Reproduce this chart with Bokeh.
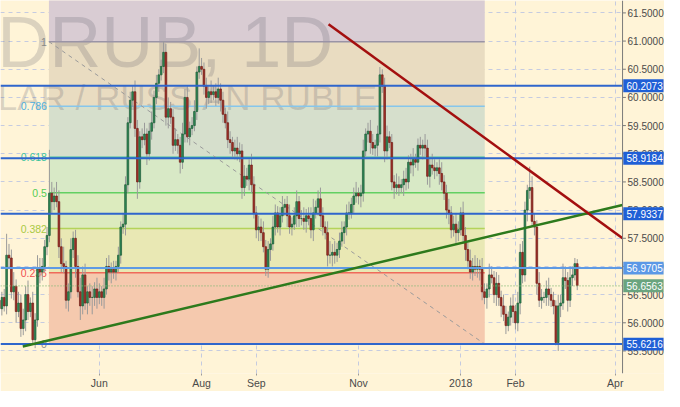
import pandas as pd
from bokeh.plotting import figure
from bokeh.models import Range1d, FixedTicker, Span, ColumnDataSource
from bokeh.core.properties import value
from bokeh.embed import file_html
from bokeh.resources import INLINE

# ---------------- data ----------------
# daily closes (bars 1..244, weekday index from 2017-04-03)
closes = [
    56.25, 56.45, 56.30, 57.20, 57.15, 56.55, 56.65, 56.20, 56.35, 55.90,
    56.05, 56.50, 56.20, 56.35, 55.70, 56.05, 56.95, 56.90, 57.00, 57.35,
    57.55, 58.30, 58.15, 58.25, 58.15, 57.35, 57.05, 57.00, 56.40, 56.55,
    57.30, 57.50, 57.00, 56.55, 56.30, 56.85, 56.35, 56.55, 56.45, 56.45,
    56.60, 56.45, 56.55, 56.45, 56.60, 57.00, 56.90, 56.95, 56.90, 57.00,
    57.20, 57.70, 57.75, 58.45, 59.55, 59.95, 60.10, 59.45, 58.50, 59.30,
    59.25, 59.35, 59.00, 59.40, 59.55, 60.00, 60.25, 60.40, 60.55, 60.80,
    59.65, 59.80, 59.65, 59.15, 59.25, 59.15, 58.85, 59.35, 60.00, 59.30,
    59.45, 59.50, 59.75, 60.45, 60.55, 60.50, 60.20, 60.00, 60.10, 60.05,
    60.10, 60.00, 60.15, 59.95, 59.70, 59.55, 59.25, 59.20, 59.05, 59.10,
    59.00, 59.05, 58.40, 58.60, 58.55, 58.80, 58.45, 57.95, 57.65, 57.70,
    57.60, 57.35, 56.95, 57.30, 57.40, 57.70, 57.95, 57.70, 57.90, 58.05,
    58.10, 57.90, 57.70, 57.75, 57.90, 58.15, 57.85, 57.85, 57.80, 57.90,
    57.85, 57.65, 57.95, 58.05, 58.20, 57.90, 57.70, 57.60, 57.20, 57.20,
    57.25, 57.20, 57.30, 57.45, 57.60, 57.70, 57.95, 57.95, 58.10, 58.25,
    58.30, 58.25, 58.30, 59.05, 59.35, 59.40, 59.20, 59.10, 59.15, 59.35,
    60.40, 60.20, 59.05, 59.30, 59.20, 58.50, 58.40, 58.45, 58.40, 58.45,
    58.55, 58.50, 58.85, 58.80, 58.90, 58.85, 59.15, 59.10, 59.15, 59.10,
    58.60, 58.80, 58.75, 58.70, 58.75, 58.65, 58.50, 58.30, 58.00, 57.95,
    57.65, 57.75, 57.60, 57.65, 57.95, 57.55, 57.30, 57.10, 56.90, 57.00,
    56.95, 57.00, 56.95, 56.55, 56.45, 56.60, 56.85, 56.80, 56.50, 56.70,
    56.45, 56.30, 56.15, 55.95, 56.10, 56.30, 56.20, 56.00, 56.35, 57.25,
    56.85, 58.00, 58.35, 58.40, 57.80, 57.70, 56.70, 56.40, 56.45, 56.45,
    56.60, 56.50, 56.40, 56.30, 55.65, 56.30, 56.35, 56.80, 56.75, 56.40,
    56.80, 56.85, 57.05, 56.66,
]
first_open = 56.40
# wick lengths above / below the body, in hundredths of a rouble
upper_wick = [
    12, 10, 15, 38, 20, 15, 25, 12, 20, 15,
    20, 15, 25, 10, 20, 12, 25, 20, 15, 12,
    15, 77, 20, 15, 25, 20, 15, 30, 10, 15,
    20, 12, 15, 20, 25, 15, 20, 10, 15, 20,
    12, 20, 15, 10, 20, 15, 20, 12, 15, 10,
    15, 10, 20, 15, 10, 15, 10, 20, 15, 10,
    15, 20, 10, 15, 20, 12, 15, 10, 12, 20,
    15, 20, 12, 15, 20, 10, 15, 20, 15, 20,
    12, 15, 20, 10, 32, 15, 12, 15, 10, 20,
    12, 15, 20, 10, 15, 12, 20, 15, 10, 15,
    20, 15, 12, 20, 15, 10, 20, 15, 12, 20,
    15, 20, 12, 15, 10, 20, 15, 12, 15, 20,
    10, 15, 20, 12, 15, 20, 10, 15, 20, 12,
    15, 20, 25, 12, 15, 20, 15, 10, 20, 25,
    15, 20, 12, 15, 20, 10, 15, 20, 12, 15,
    20, 10, 15, 20, 10, 15, 20, 15, 10, 15,
    14, 10, 15, 20, 10, 15, 12, 20, 15, 10,
    15, 20, 12, 15, 20, 10, 12, 15, 10, 20,
    15, 12, 20, 15, 10, 15, 20, 12, 15, 20,
    12, 15, 20, 15, 10, 20, 15, 12, 20, 15,
    20, 15, 12, 20, 15, 10, 20, 15, 12, 20,
    15, 12, 20, 15, 10, 15, 20, 12, 20, 15,
    20, 15, 10, 37, 20, 15, 12, 20, 15, 10,
    15, 20, 12, 15, 10, 20, 15, 25, 20, 15,
    20, 15, 10, 8,
]
lower_wick = [
    15, 12, 10, 15, 20, 12, 15, 20, 10, 15,
    12, 20, 15, 10, 8, 15, 12, 20, 15, 10,
    15, 12, 20, 15, 10, 20, 15, 12, 15, 20,
    12, 15, 20, 10, 25, 15, 12, 20, 15, 30,
    15, 20, 12, 15, 20, 10, 15, 20, 12, 15,
    10, 15, 12, 20, 15, 10, 12, 15, 30, 12,
    15, 10, 20, 12, 15, 10, 12, 15, 10, 12,
    15, 20, 12, 15, 10, 15, 20, 12, 15, 10,
    15, 12, 10, 15, 12, 10, 15, 20, 12, 15,
    10, 15, 12, 20, 15, 10, 15, 20, 12, 15,
    12, 15, 20, 15, 12, 20, 15, 10, 15, 20,
    15, 10, 12, 15, 20, 12, 15, 10, 15, 12,
    15, 20, 12, 15, 10, 20, 15, 12, 15, 20,
    12, 15, 20, 10, 15, 20, 15, 12, 20, 15,
    20, 15, 12, 15, 10, 20, 15, 12, 10, 15,
    12, 15, 20, 15, 10, 15, 20, 12, 15, 20,
    15, 12, 20, 15, 10, 15, 20, 12, 15, 10,
    20, 15, 12, 15, 20, 10, 15, 12, 20, 15,
    15, 20, 12, 15, 10, 20, 15, 12, 15, 20,
    15, 12, 20, 15, 10, 15, 20, 15, 12, 15,
    12, 15, 20, 15, 12, 20, 15, 10, 15, 20,
    15, 20, 12, 15, 10, 15, 20, 12, 15, 20,
    15, 12, 20, 15, 10, 15, 20, 12, 15, 10,
    15, 20, 12, 15, 5, 15, 20, 12, 15, 20,
    12, 15, 10, 8,
]

# horizontal price levels (blue lines) and last price
key_levels = [60.2073, 58.9184, 57.9337, 56.9705, 55.6216]
last_price = 56.6563

# Fibonacci retracement
fib_low, fib_high = 55.6216, 60.99
fib_ratios = [0, 0.236, 0.382, 0.5, 0.618, 0.786, 1.0, 1.618]
fib_texts = ["0", "0.236", "0.382", "0.5", "0.618", "0.786", "1"]
fib_start_bar, fib_end_bar = 21.8, 205.1

# trend lines (bar position, price)
support_x, support_y = [10.8, 263.06], [55.58, 58.09]
resist_x, resist_y = [139.4, 263.06], [61.30, 57.50]

# time axis
tick_months = ["2017-04", "2017-06", "2017-08", "2017-09", "2017-11", "2018-01", "2018-02", "2018-04"]
tick_labels = ["Apr", "Jun", "Aug", "Sep", "Nov", "2018", "Feb", "Apr"]
price_ticks = [55.5, 56.0, 56.5, 57.0, 57.5, 58.0, 58.5, 59.0, 59.5, 60.0, 60.5, 61.0, 61.5]

# ---------------- build ----------------
X0, XC, X1 = 1.43, 263.06, 280.7      # view start, price-scale edge, view end (bar units)
Y0, Y1 = 55.10, 61.72

dates = pd.bdate_range("2017-04-03", periods=270)
n = min(len(closes), len(upper_wick), len(lower_wick))
closes = closes[:n]
bar_x = list(range(1, n + 1))
opens = [first_open] + closes[:-1]
highs = [max(o, c) + u / 100 for o, c, u in zip(opens, closes, upper_wick[:n])]
lows = [min(o, c) - l / 100 for o, c, l in zip(opens, closes, lower_wick[:n])]
up = [c >= o for o, c in zip(opens, closes)]
src = ColumnDataSource(dict(
    x=bar_x, high=highs, low=lows,
    top=[max(o, c) for o, c in zip(opens, closes)],
    bottom=[min(o, c) for o, c in zip(opens, closes)],
    fill=["#2f8a57" if u else "#a3312a" for u in up],
    line=["#1d5a37" if u else "#6e1c16" for u in up],
))

tick_idx = []
for m in tick_months:
    start = pd.Timestamp(m + "-01")
    tick_idx.append(int((dates >= start).argmax()))

BG = "#fff4d7"
p = figure(width=664, height=391, x_range=Range1d(X0, X1), y_range=Range1d(Y0, Y1),
           output_backend="svg", toolbar_location=None, y_axis_location="right")
p.background_fill_color = BG
p.border_fill_color = BG
p.outline_line_color = None
p.min_border_left = 0
p.min_border_top = 0
p.min_border_bottom = 0
p.min_border_right = 0
p.yaxis.visible = False

xax = p.xaxis[0]
xax.ticker = FixedTicker(ticks=tick_idx)
xax.major_label_overrides = {t: lab for t, lab in zip(tick_idx, tick_labels)}
xax.major_label_text_font_size = "10.5px"
xax.major_label_text_color = "#4a4a4a"
xax.major_label_text_font = "Liberation Sans"
xax.axis_line_color = None
xax.major_tick_line_color = "#9a9a9a"
xax.major_tick_in = 0
xax.major_tick_out = 2
xax.minor_tick_line_color = None
xax.major_label_standoff = 1

p.ygrid.ticker = FixedTicker(ticks=price_ticks)
p.xgrid.ticker = FixedTicker(ticks=tick_idx)
for g in (p.xgrid[0], p.ygrid[0]):
    g.grid_line_color = "#c5cbe0"
    g.grid_line_dash = "4 4"
    g.grid_line_width = 1

# Fibonacci zones
fib_levels = [fib_low + r * (fib_high - fib_low) for r in fib_ratios]
zone_colors = ["#f5c9ae", "#e9e8b4", "#dcebbe", "#d8e9c6", "#d6dfcc", "#e9dcc1", "#d9ccd3"]
p.quad(left=[fib_start_bar] * 7, right=[fib_end_bar] * 7,
       bottom=fib_levels[:-1], top=fib_levels[1:], fill_color=zone_colors, line_color=None)

# watermark
p.text(x=[141.4], y=[60.99], text=["USDRUB, 1D"], text_align="right", text_baseline="alphabetic",
       text_font=value("Liberation Sans"), text_font_size="72px", text_color="#5a5a6a", text_alpha=0.22)
p.text(x=[159.8], y=[60.0], text=["U.S. DOLLAR / RUSSIAN RUBLE"], text_align="right",
       text_baseline="alphabetic", text_font=value("Liberation Sans"), text_font_size="35px",
       text_color="#5a5a6a", text_alpha=0.22)

# Fibonacci level lines and labels
fib_line_colors = ["#9a9a9a", "#ef6a5a", "#b3d35a", "#62d062", "#3fbfa0", "#86c6ec", "#9a94a6"]
fib_text_colors = ["#8c8c8c", "#f05050", "#a9c944", "#55cc55", "#3cc49e", "#4fb0e0", "#888888"]
lv7 = fib_levels[:7]
p.segment(x0=[fib_start_bar] * 7, x1=[fib_end_bar] * 7, y0=lv7, y1=lv7,
          line_color=fib_line_colors, line_width=1.5)
p.text(x=[fib_start_bar] * 7, y=lv7, text=fib_texts, text_align="right", text_baseline="middle",
       x_offset=-2, text_font=value("Liberation Sans"), text_font_size="10.5px", text_color=fib_text_colors)
p.line([fib_start_bar, fib_end_bar], [fib_high, fib_low], line_color="#9a9a9a", line_width=1,
       line_dash="4 4")

# candles
p.segment(x0="x", x1="x", y0="low", y1="high", source=src, line_color="#9a9a9a", line_width=1)
p.vbar(x="x", width=0.72, top="top", bottom="bottom", fill_color="fill", line_color="line",
       line_width=0.7, source=src)

# horizontal levels (up to the price scale)
level_colors = ["#2f66cc", "#2f66cc", "#2f66cc", "#5e9ae4", "#2f66cc"]
nl = len(key_levels)
p.segment(x0=[X0] * nl, x1=[XC] * nl, y0=key_levels, y1=key_levels, line_color=level_colors, line_width=2)
p.segment(x0=[X0], x1=[XC], y0=[last_price], y1=[last_price], line_color="#86ba78", line_width=1.3,
          line_dash="1 2")

# trend lines
p.line(support_x, support_y, line_color="#2d7a1c", line_width=2.5)
p.line(resist_x, resist_y, line_color="#a30f0f", line_width=2.5)

# ---- price scale on the right (drawn in the same scales) ----
p.quad(left=[XC], right=[X1], bottom=[Y0], top=[Y1], fill_color=BG, line_color=None)
p.add_layout(Span(location=XC, dimension="height", line_color="#7a7a7a", line_width=1))
nt = len(price_ticks)
p.segment(x0=[XC] * nt, x1=[XC + 1.4] * nt, y0=price_ticks, y1=price_ticks, line_color="#7a7a7a", line_width=1)
p.text(x=[XC] * nt, y=price_ticks, text=[f"{t:.4f}" for t in price_ticks], x_offset=5,
       text_baseline="middle", text_align="left", text_font=value("Liberation Sans"),
       text_font_size="10px", text_color="#4a4a4a")

box_levels = key_levels + [last_price]
box_colors = ["#1f5fd6", "#1f5fd6", "#1f5fd6", "#5b98e6", "#1f5fd6", "#6aa47f"]
half_h = 0.115
p.quad(left=[XC + 0.3] * len(box_levels), right=[X1 - 0.4] * len(box_levels),
       bottom=[v - half_h for v in box_levels], top=[v + half_h for v in box_levels],
       fill_color=box_colors, line_color=None)
p.text(x=[XC] * len(box_levels), y=box_levels, text=[f"{v:.4f}" for v in box_levels], x_offset=4,
       text_baseline="middle", text_align="left", text_font=value("Liberation Sans"),
       text_font_size="10px", text_color="white")

open("out.html", "w").write(file_html(p, INLINE))
